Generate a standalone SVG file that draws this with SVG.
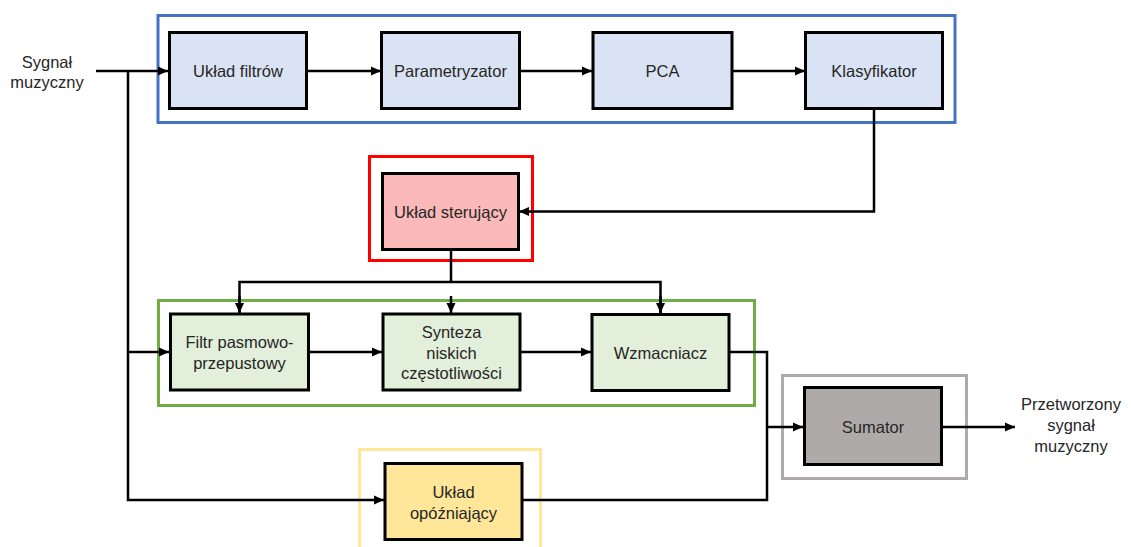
<svg xmlns="http://www.w3.org/2000/svg" width="1131" height="547" viewBox="0 0 1131 547">
<style>
text{font-family:"Liberation Sans",Arial,sans-serif;font-size:16.5px;fill:#262626;text-anchor:middle;dominant-baseline:central}
.node{stroke:#000;stroke-width:3}
.grp{fill:none;stroke-width:3}
.c{fill:none;stroke:#000;stroke-width:2.5}
</style>
<defs>
<marker id="ah" markerUnits="userSpaceOnUse" markerWidth="10" markerHeight="10" viewBox="0 0 10 10" refX="10" refY="5" orient="auto">
<path d="M0,0.5 L10,5 L0,9.5 z" fill="#000"/>
</marker>
</defs>
<rect width="1131" height="547" fill="#fff"/>
<g id="groups">
<rect class="grp" x="158" y="15.5" width="797" height="107" stroke="#4472C4"/>
<rect class="grp" x="369.5" y="156.5" width="163" height="104" stroke="#FF0000"/>
<rect class="grp" x="158.5" y="300.5" width="596" height="105" stroke="#70AD47"/>
<rect class="grp" x="782.5" y="375.5" width="184" height="103" stroke="#AFABAB"/>
<path class="grp" d="M359.5,552 V449.5 H540.5 V552" stroke="#FFE699"/>
</g>
<g id="connectors">
<path class="c" d="M96,71 H168" marker-end="url(#ah)"/>
<path class="c" d="M306,71 H381" marker-end="url(#ah)"/>
<path class="c" d="M519,71 H592" marker-end="url(#ah)"/>
<path class="c" d="M732,71 H805" marker-end="url(#ah)"/>
<path class="c" d="M874,108 V211.5 H519" marker-end="url(#ah)"/>
<path class="c" d="M451,249 V282 M239.5,313 V282 H660.5 V313" />
<path class="c" d="M239.5,296 V313" marker-end="url(#ah)"/>
<path class="c" d="M451,296 V313" marker-end="url(#ah)"/>
<path class="c" d="M660.5,296 V313" marker-end="url(#ah)"/>
<path class="c" d="M128,71 V500 H384" marker-end="url(#ah)"/>
<path class="c" d="M128,352 H169" marker-end="url(#ah)"/>
<path class="c" d="M308,352 H382" marker-end="url(#ah)"/>
<path class="c" d="M520,352 H591" marker-end="url(#ah)"/>
<path class="c" d="M729,352 H767 V500 H522"/>
<path class="c" d="M767,427 H803" marker-end="url(#ah)"/>
<path class="c" d="M942,427 H1015" marker-end="url(#ah)"/>
</g>
<g id="in-label">
<text x="47" y="62">Sygnał</text>
<text x="47" y="82">muzyczny</text>
</g>
<g id="uklad-filtrow">
<rect class="node" x="169.5" y="32.5" width="137" height="76" fill="#DAE3F3"/>
<text x="238" y="71">Układ filtrów</text>
</g>
<g id="parametryzator">
<rect class="node" x="381.5" y="32.5" width="138" height="76" fill="#DAE3F3"/>
<text x="450.5" y="71">Parametryzator</text>
</g>
<g id="pca">
<rect class="node" x="593" y="32.5" width="139" height="76" fill="#DAE3F3"/>
<text x="662.5" y="71">PCA</text>
</g>
<g id="klasyfikator">
<rect class="node" x="805.5" y="32.5" width="137" height="76" fill="#DAE3F3"/>
<text x="874" y="71">Klasyfikator</text>
</g>
<g id="uklad-sterujacy">
<rect class="node" x="382.5" y="173.5" width="136" height="76" fill="#FBB9B9"/>
<text x="450.5" y="211.5">Układ sterujący</text>
</g>
<g id="filtr">
<rect class="node" x="170.5" y="314" width="138" height="76" fill="#E2EFDA"/>
<text x="239.5" y="342">Filtr pasmowo-</text>
<text x="239.5" y="363">przepustowy</text>
</g>
<g id="synteza">
<rect class="node" x="383" y="314" width="137" height="76" fill="#E2EFDA"/>
<text x="451.5" y="332">Synteza</text>
<text x="451.5" y="352.5">niskich</text>
<text x="451.5" y="373">częstotliwości</text>
</g>
<g id="wzmacniacz">
<rect class="node" x="592" y="314.5" width="137" height="76" fill="#E2EFDA"/>
<text x="660.5" y="352.5">Wzmacniacz</text>
</g>
<g id="sumator">
<rect class="node" x="804.5" y="387.5" width="137" height="77" fill="#AEAAAA"/>
<text x="873" y="426.5">Sumator</text>
</g>
<g id="opozniajacy">
<rect class="node" x="385" y="463.5" width="137" height="76" fill="#FFE699"/>
<text x="453.5" y="492">Układ</text>
<text x="453.5" y="513">opóźniający</text>
</g>
<g id="out-label">
<text x="1071" y="404">Przetworzony</text>
<text x="1071" y="425">sygnał</text>
<text x="1071" y="446">muzyczny</text>
</g>
</svg>
